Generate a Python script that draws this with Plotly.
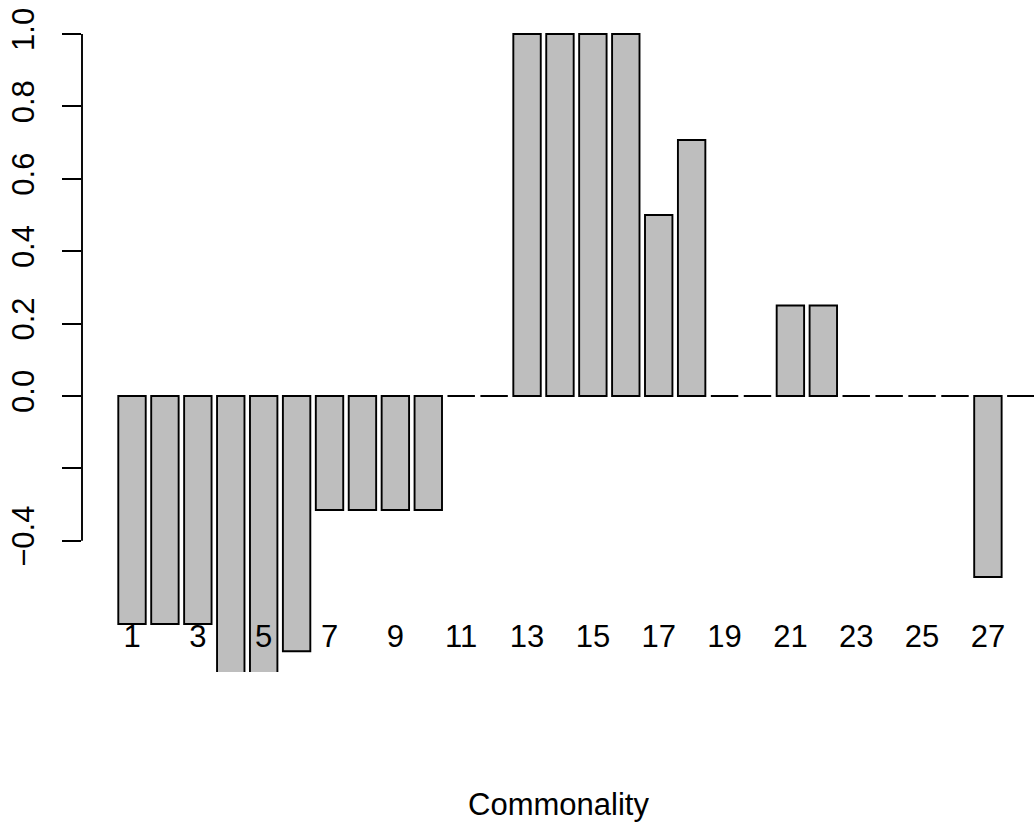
import plotly.graph_objects as go

categories = list(range(1, 29))
values = [-0.63, -0.63, -0.63, -0.85, -0.85, -0.705, -0.315, -0.315, -0.315, -0.315,
          0, 0, 1.0, 1.0, 1.0, 1.0, 0.5, 0.707, 0, 0, 0.25, 0.25, 0, 0, 0, 0, -0.5, 0]
tick_labels = [str(c) if c % 2 == 1 else "" for c in categories]
y_ticks = [-0.4, -0.2, 0.0, 0.2, 0.4, 0.6, 0.8, 1.0]
y_tick_text = ["\u22120.4", "", "0.0", "0.2", "0.4", "0.6", "0.8", "1.0"]

FONT = "Liberation Sans, Arial, sans-serif"
fs = 31
LW = 1.9

fig = go.Figure()
fig.add_trace(go.Bar(
    x=categories, y=values, width=1 / 1.2,
    marker=dict(color="#BEBEBE", line=dict(color="black", width=LW)),
    showlegend=False, hoverinfo="skip",
))

fig.update_layout(
    width=1034, height=828,
    margin=dict(l=82, r=0, t=0, b=156, pad=0),
    plot_bgcolor="white", paper_bgcolor="white",
    font=dict(family=FONT, size=fs, color="black"),
    xaxis=dict(
        range=[-0.519, 28.40], tickmode="array", tickvals=categories,
        ticktext=tick_labels, ticks="", showline=False, showgrid=False,
        zeroline=False, anchor="free", position=0.0848,
        tickfont=dict(size=fs),
    ),
    yaxis=dict(
        range=[-0.7624, 1.0939], tickmode="array", tickvals=y_ticks,
        ticktext=y_tick_text, ticks="outside", ticklen=19, tickwidth=LW,
        tickcolor="black", tickangle=-90, showline=False, showgrid=False,
        zeroline=False, tickfont=dict(size=fs), ticklabelstandoff=16,
    ),
    shapes=[dict(type="line", xref="paper", yref="y", x0=0, x1=0,
                 y0=-0.4, y1=1.0, line=dict(color="black", width=LW))],
    annotations=[dict(text="Commonality", xref="paper", yref="paper",
                      x=0.5, y=(672 - 804) / 672, xanchor="center",
                      yanchor="middle", showarrow=False,
                      font=dict(size=fs, family=FONT))],
)

fig.write_html("out.html")
